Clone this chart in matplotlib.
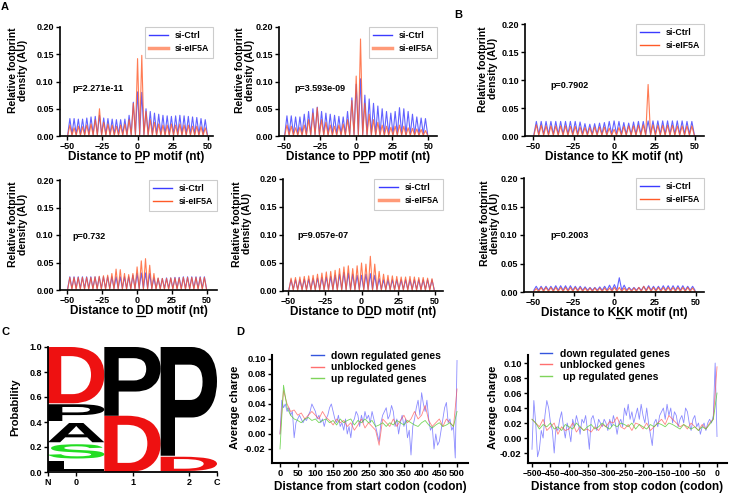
import matplotlib
matplotlib.use("Agg")
import matplotlib.pyplot as plt
import matplotlib.ticker as mticker
from matplotlib.lines import Line2D
from matplotlib.textpath import TextPath
from matplotlib.patches import PathPatch
from matplotlib.font_manager import FontProperties
from matplotlib.transforms import Affine2D

plt.rcParams["font.family"] = ["Liberation Sans", "DejaVu Sans"]
plt.rcParams["font.weight"] = "bold"
plt.rcParams["axes.labelweight"] = "bold"

# ---- footprint profiles (peak height at each codon, nt = -48 .. 48) ----
peak_nt = list(range(-48, 49, 3))

pp_ctrl = [0.032, 0.032, 0.031, 0.031, 0.033, 0.035, 0.036, 0.038, 0.033, 0.032, 0.031,
           0.030, 0.030, 0.031, 0.038, 0.062, 0.081, 0.080, 0.050, 0.045, 0.042, 0.040,
           0.038, 0.037, 0.036, 0.037, 0.038, 0.037, 0.036, 0.035, 0.034, 0.032, 0.030]
pp_eif = [0.020, 0.015, 0.018, 0.017, 0.020, 0.022, 0.030, 0.050, 0.025, 0.022, 0.020,
          0.018, 0.020, 0.022, 0.030, 0.060, 0.142, 0.148, 0.045, 0.030, 0.025, 0.022,
          0.020, 0.020, 0.022, 0.020, 0.022, 0.020, 0.020, 0.018, 0.018, 0.017, 0.015]

ppp_ctrl = [0.037, 0.037, 0.035, 0.035, 0.040, 0.045, 0.050, 0.053, 0.045, 0.042, 0.040,
            0.038, 0.036, 0.035, 0.045, 0.070, 0.095, 0.105, 0.075, 0.068, 0.060, 0.055,
            0.050, 0.045, 0.042, 0.045, 0.052, 0.050, 0.045, 0.040, 0.035, 0.033, 0.032]
ppp_eif = [0.020, 0.018, 0.015, 0.016, 0.020, 0.030, 0.042, 0.052, 0.030, 0.025, 0.020,
           0.018, 0.020, 0.022, 0.030, 0.065, 0.110, 0.178, 0.060, 0.040, 0.030, 0.025,
           0.020, 0.018, 0.016, 0.018, 0.020, 0.018, 0.015, 0.014, 0.013, 0.012, 0.010]

kk_ctrl = [0.026, 0.026, 0.026, 0.026, 0.026, 0.026, 0.026, 0.026, 0.026, 0.025, 0.022,
           0.021, 0.022, 0.023, 0.024, 0.026, 0.027, 0.026, 0.024, 0.023, 0.025, 0.026,
           0.026, 0.027, 0.027, 0.027, 0.027, 0.027, 0.027, 0.027, 0.027, 0.026, 0.026]
kk_eif = [0.020, 0.019, 0.018, 0.018, 0.018, 0.018, 0.018, 0.017, 0.017, 0.016, 0.015,
          0.015, 0.016, 0.016, 0.016, 0.014, 0.012, 0.015, 0.017, 0.018, 0.018, 0.019,
          0.020, 0.092, 0.020, 0.019, 0.019, 0.019, 0.019, 0.018, 0.018, 0.018, 0.018]

dd_ctrl = [0.024, 0.024, 0.024, 0.024, 0.024, 0.024, 0.024, 0.024, 0.024, 0.024, 0.024,
           0.024, 0.024, 0.024, 0.024, 0.027, 0.030, 0.031, 0.031, 0.030, 0.022, 0.021,
           0.021, 0.022, 0.022, 0.023, 0.023, 0.024, 0.024, 0.024, 0.024, 0.024, 0.024]
dd_eif = [0.023, 0.023, 0.023, 0.023, 0.023, 0.023, 0.024, 0.025, 0.026, 0.027, 0.030,
          0.038, 0.037, 0.030, 0.028, 0.030, 0.042, 0.053, 0.057, 0.045, 0.030, 0.022,
          0.021, 0.021, 0.022, 0.022, 0.022, 0.023, 0.023, 0.023, 0.023, 0.023, 0.023]

ddd_ctrl = [0.020, 0.020, 0.020, 0.021, 0.021, 0.022, 0.023, 0.024, 0.025, 0.026, 0.028,
            0.030, 0.033, 0.032, 0.030, 0.028, 0.028, 0.030, 0.031, 0.028, 0.022, 0.020,
            0.020, 0.020, 0.020, 0.020, 0.020, 0.020, 0.020, 0.020, 0.020, 0.020, 0.020]
ddd_eif = [0.023, 0.024, 0.025, 0.026, 0.027, 0.028, 0.030, 0.032, 0.034, 0.035, 0.037,
           0.040, 0.043, 0.045, 0.040, 0.045, 0.050, 0.048, 0.062, 0.048, 0.035, 0.030,
           0.028, 0.027, 0.026, 0.025, 0.025, 0.026, 0.025, 0.024, 0.024, 0.023, 0.022]

kkk_ctrl = [0.010, 0.010, 0.010, 0.010, 0.011, 0.011, 0.011, 0.011, 0.010, 0.010, 0.009,
            0.008, 0.008, 0.009, 0.010, 0.012, 0.013, 0.025, 0.012, 0.008, 0.008, 0.008,
            0.010, 0.011, 0.010, 0.010, 0.011, 0.011, 0.011, 0.011, 0.011, 0.010, 0.010]
kkk_eif = [0.006, 0.008, 0.008, 0.008, 0.008, 0.008, 0.008, 0.008, 0.008, 0.008, 0.007,
           0.007, 0.007, 0.007, 0.007, 0.007, 0.008, 0.008, 0.007, 0.007, 0.007, 0.008,
           0.010, 0.009, 0.008, 0.008, 0.008, 0.008, 0.008, 0.008, 0.008, 0.008, 0.007]

trough_ctrl = 0.003
trough_eif = 0.001

# ---- sequence logo (bottom to top per position) ----
logo_pos = [0, 1, 2]
logo_letters = [["L", "S", "A", "P", "D"], ["D", "P"], ["D", "P"]]
logo_heights = [[0.10, 0.13, 0.17, 0.15, 0.45], [0.45, 0.55], [0.13, 0.87]]

# ---- average charge profiles ----
start_blue_x = list(range(0, 501, 5))
start_blue = [0.000, 0.045, 0.035, 0.040, 0.030, 0.035, 0.025, 0.030, -0.005, 0.015,
              0.020, 0.025, 0.020, 0.015, 0.020, 0.018, 0.025, 0.030, 0.040, 0.035,
              0.030, 0.020, 0.025, 0.015, 0.020, 0.010, 0.020, 0.025, 0.035, 0.040,
              0.030, 0.020, 0.015, 0.025, 0.010, 0.015, 0.005, 0.020, 0.000, 0.010,
              -0.005, 0.015, 0.020, 0.030, 0.025, 0.010, 0.025, 0.015, 0.030, 0.020,
              0.025, 0.015, 0.030, 0.020, 0.010, 0.000, -0.010, 0.015, 0.025, 0.030,
              0.035, 0.020, 0.025, 0.038, 0.030, 0.010, 0.020, 0.000, 0.015, 0.025,
              0.010, 0.020, -0.005, 0.005, -0.028, 0.010, 0.020, 0.035, 0.045, 0.025,
              0.055, 0.040, 0.030, 0.045, 0.020, 0.005, 0.010, -0.020, 0.000, -0.015,
              -0.010, 0.005, 0.020, 0.035, 0.042, 0.015, 0.020, 0.005, 0.010, -0.032,
              0.098]
start_x = list(range(0, 501, 10))
start_red = [0.000, 0.058, 0.040, 0.030, 0.032, 0.025, 0.028, 0.020, 0.025, 0.030,
             0.025, 0.020, 0.030, 0.022, 0.018, 0.012, 0.020, 0.015, 0.018, 0.010,
             0.015, 0.005, 0.012, 0.020, 0.008, 0.015, 0.010, 0.005, -0.015, 0.020,
             0.015, 0.010, 0.020, 0.010, 0.018, 0.025, 0.015, 0.020, 0.030, 0.020,
             0.025, 0.038, 0.018, 0.010, 0.015, 0.020, 0.010, 0.020, 0.015, 0.010,
             0.060]
start_green = [-0.020, 0.065, 0.035, 0.025, 0.020, 0.018, 0.015, 0.020, 0.022, 0.018,
               0.020, 0.015, 0.018, 0.020, 0.015, 0.018, 0.012, 0.020, 0.015, 0.018,
               0.020, 0.012, 0.018, 0.015, 0.020, 0.015, 0.018, 0.010, 0.012, 0.015,
               0.010, 0.015, 0.012, 0.018, 0.015, 0.012, 0.018, 0.015, 0.012, 0.010,
               0.015, 0.018, 0.012, 0.008, 0.012, 0.015, 0.010, 0.012, 0.015, 0.010,
               0.030]

stop_blue_x = list(range(-500, 1, 5))
stop_blue = [-0.015, 0.050, 0.020, -0.025, -0.015, 0.010, 0.000, 0.030, 0.050, 0.040,
             0.020, 0.010, -0.020, 0.015, 0.010, 0.025, 0.035, 0.015, 0.000, 0.020,
             0.010, -0.005, 0.025, 0.015, 0.030, 0.020, 0.005, 0.025, 0.020, 0.030,
             0.010, -0.015, 0.025, 0.030, 0.020, 0.010, 0.025, 0.020, 0.015, 0.025,
             0.020, 0.010, 0.025, 0.015, 0.030, 0.020, 0.005, 0.020, 0.025, 0.015,
             0.040, 0.030, 0.045, 0.025, 0.035, 0.020, 0.030, 0.040, 0.025, 0.045,
             0.030, 0.020, 0.040, 0.020, 0.005, -0.010, 0.020, 0.025, 0.015, 0.030,
             0.035, 0.040, 0.025, 0.045, 0.030, 0.040, 0.020, 0.035, 0.030, 0.015,
             0.025, 0.030, 0.020, 0.040, 0.035, 0.020, 0.010, 0.025, 0.030, 0.015,
             0.020, 0.005, 0.015, 0.020, 0.010, 0.020, 0.025, 0.020, 0.030, 0.100,
             0.002]
stop_x = list(range(-500, 1, 10))
stop_red = [0.025, 0.020, 0.015, 0.025, 0.010, 0.015, 0.020, 0.005, 0.015, 0.010,
            0.012, 0.020, 0.008, 0.015, 0.010, 0.012, 0.008, 0.015, 0.010, 0.018,
            0.015, 0.022, 0.020, 0.028, 0.015, 0.012, 0.018, 0.010, 0.020, 0.018,
            0.012, 0.020, 0.010, 0.015, 0.020, 0.025, 0.018, 0.030, 0.025, 0.020,
            0.015, 0.018, 0.012, 0.020, 0.015, 0.010, 0.018, 0.012, 0.020, 0.025,
            0.095]
stop_green = [0.025, 0.020, 0.012, 0.018, 0.015, 0.020, 0.012, 0.015, 0.010, 0.018,
              0.015, 0.012, 0.020, 0.015, 0.010, 0.015, 0.018, 0.012, 0.015, 0.020,
              0.015, 0.012, 0.018, 0.015, 0.020, 0.018, 0.015, 0.020, 0.012, 0.018,
              0.015, 0.012, 0.018, 0.015, 0.020, 0.018, 0.015, 0.020, 0.018, 0.015,
              0.012, 0.018, 0.015, 0.012, 0.015, 0.010, 0.015, 0.012, 0.018, 0.025,
              0.060]

CTRL = "#3b3bff"
EIF = "#ff5a28"
RED = "#ee1111"
GREEN = "#22dd22"

W, H = 729, 495
fig = plt.figure(figsize=(W / 100, H / 100), dpi=100)


def px_axes(l, t, r, b):
    return fig.add_axes([l / W, 1 - b / H, (r - l) / W, (b - t) / H])


def style(ax, lw=1.2, size=6.5):
    ax.spines[["top", "right"]].set_visible(False)
    ax.spines[["left", "bottom"]].set_linewidth(lw)
    ax.tick_params(direction="out", length=3, width=1, labelsize=size, pad=1.5)


def spikes(peaks, trough):
    xs, ys = [peak_nt[0] - 1.5], [trough]
    for p, v in zip(peak_nt, peaks):
        xs += [p, p + 1.5]
        ys += [v, trough]
    return xs, ys


panels = [
    # box, xlim, ctrl, eif, xlabel, underline idx, p text, p xy, ylabel offset (px), thick legend
    ((60, 27, 213, 136), (-55, 53.5), pp_ctrl, pp_eif, "Distance to PP motif (nt)", 12,
     "p=2.271e-11", (-46, 0.088), -32, True),
    ((279, 27, 437, 136), (-53.5, 56), ppp_ctrl, ppp_eif, "Distance to PPP motif (nt)", 13,
     "p=3.593e-09", (-43, 0.088), -24, True),
    ((525, 24, 704, 136), (-55, 55.5), kk_ctrl, kk_eif, "Distance to KK motif (nt)", 12,
     "p=0.7902", (-39.5, 0.09), -27, False),
    ((60, 180, 217, 290), (-55, 57), dd_ctrl, dd_eif, "Distance to DD motif (nt)", 12,
     "p=0.732", (-46, 0.098), -32, False),
    ((283, 179, 443, 291), (-53.5, 55.5), ddd_ctrl, ddd_eif, "Distance to DDD motif (nt)", 13,
     "p=9.057e-07", (-44, 0.1), -31, True),
    ((524, 178, 704, 292), (-55.5, 55), kkk_ctrl, kkk_eif, "Distance to KKK motif (nt)", 13,
     "p=0.2003", (-39.5, 0.10), -24, False),
]

underlines = []
for box, xlim, ctrl, eif, xlab, uidx, ptxt, pxy, yoff, thick in panels:
    ax = px_axes(*box)
    style(ax)
    x, y = spikes(ctrl, trough_ctrl)
    ax.plot(x, y, color=CTRL, lw=0.8, alpha=0.8)
    x, y = spikes(eif, trough_eif)
    ax.plot(x, y, color=EIF, lw=0.8, alpha=0.8)
    ax.set_xlim(*xlim)
    ax.set_ylim(0, 0.2)
    ax.set_xticks([-50, -25, 0, 25, 50])
    ax.set_yticks([0, 0.05, 0.10, 0.15, 0.20])
    ax.yaxis.set_major_formatter(mticker.FormatStrFormatter("%.2f"))
    ax.text(pxy[0], pxy[1], ptxt, fontsize=6.5, fontweight="bold", va="center")
    wpx = box[2] - box[0]
    hpx = box[3] - box[1]
    ax.set_ylabel("Relative footprint\ndensity (AU)", fontsize=7.5, linespacing=1.0)
    ax.yaxis.set_label_coords(yoff / wpx, 0.6)
    ax.set_xlabel(xlab, fontsize=8.5)
    ax.xaxis.set_label_coords(0.5, -21 / hpx)
    ax.xaxis.label.set_va("center")
    if thick:
        h2 = Line2D([], [], color="#ff9a78", lw=2.5)
    else:
        h2 = Line2D([], [], color=EIF, lw=1.0)
    h1 = Line2D([], [], color=CTRL, lw=1.0)
    leg = ax.legend([h1, h2], ["si-Ctrl", "si-eIF5A"], loc="upper right",
                    bbox_to_anchor=(1.0, 1.0), borderaxespad=0, fontsize=6.3,
                    handlelength=2.2, handletextpad=0.7, borderpad=0.5,
                    labelspacing=0.45, fancybox=False, framealpha=1)
    leg.get_frame().set_edgecolor("#cccccc")
    leg.get_frame().set_linewidth(0.8)
    underlines.append((ax, xlab, uidx))

# ---- panel C: sequence logo ----
axc = px_axes(48, 347, 217, 472)
style(axc, lw=1.3, size=6.5)
fp = FontProperties(family="Liberation Sans", weight="bold")
for pos, letters, heights in zip(logo_pos, logo_letters, logo_heights):
    base = 0.0
    for ch, hgt in zip(letters, heights):
        col = RED if ch == "D" else (GREEN if ch == "S" else "black")
        tp = TextPath((0, 0), ch, size=1, prop=fp)
        bb = tp.get_extents()
        pad = 0.008 if hgt < 0.3 else 0.0
        tr = (Affine2D().translate(-bb.x0, -bb.y0)
              .scale(1.0 / bb.width, (hgt - 2 * pad) / bb.height)
              .translate(pos - 0.5, base + pad) + axc.transData)
        axc.add_patch(PathPatch(tp, transform=tr, fc=col, ec="none"))
        base += hgt
axc.set_xlim(-0.5, 2.5)
axc.set_ylim(0, 1.0)
axc.set_xticks([-0.5, 0, 1, 2, 2.5])
axc.set_xticklabels(["N", "0", "1", "2", "C"])
axc.set_yticks([0, 0.2, 0.4, 0.6, 0.8, 1.0])
axc.yaxis.set_major_formatter(mticker.FormatStrFormatter("%.1f"))
axc.set_ylabel("Probability", fontsize=8)
axc.yaxis.set_label_coords(-28 / 169, 0.52)

# ---- panel D: average charge ----
leg_blue = "#3355dd"
leg_red = "#ff6f6f"
leg_green = "#7fd45a"

axd1 = px_axes(272, 355, 468, 463)
style(axd1, lw=1.5, size=6.8)
axd1.plot(start_blue_x, start_blue, color="#5a5aff", lw=0.6, alpha=0.7)
axd1.plot(start_x, start_red, color="#ff5050", lw=0.6, alpha=0.7)
axd1.plot(start_x, start_green, color="#55cc33", lw=0.6, alpha=0.8)
axd1.set_xlim(-22.6, 531)
axd1.set_ylim(-0.0387, 0.1053)
axd1.set_xticks(range(0, 501, 50))
axd1.set_yticks([-0.02, 0, 0.02, 0.04, 0.06, 0.08, 0.10])
axd1.yaxis.set_major_formatter(mticker.FormatStrFormatter("%.2f"))
axd1.set_xlabel("Distance from start codon (codon)", fontsize=8.5)
axd1.xaxis.set_label_coords(0.5, -24 / 108)
axd1.xaxis.label.set_va("center")
axd1.set_ylabel("Average charge", fontsize=8)
axd1.yaxis.set_label_coords(-32 / 196, 0.52)
axd1.legend([Line2D([], [], color=leg_blue, lw=1), Line2D([], [], color=leg_red, lw=1),
             Line2D([], [], color=leg_green, lw=1)],
            ["down regulated genes", "unblocked genes", "up regulated genes"],
            loc="upper left", bbox_to_anchor=(0.2, 1.04), frameon=False, fontsize=7.5,
            handlelength=1.2, handletextpad=0.7, labelspacing=0.15, borderpad=0,
            borderaxespad=0)

axd2 = px_axes(528, 355, 727, 463)
style(axd2, lw=1.5, size=6.2)
axd2.plot(stop_blue_x, stop_blue, color="#5a5aff", lw=0.6, alpha=0.7)
axd2.plot(stop_x, stop_red, color="#ff5050", lw=0.6, alpha=0.7)
axd2.plot(stop_x, stop_green, color="#55cc33", lw=0.6, alpha=0.8)
axd2.set_xlim(-510.8, 27)
axd2.set_ylim(-0.0333, 0.1107)
axd2.set_xticks(range(-500, 1, 50))
axd2.set_yticks([-0.02, 0, 0.02, 0.04, 0.06, 0.08, 0.10])
axd2.yaxis.set_major_formatter(mticker.FormatStrFormatter("%.2f"))
axd2.tick_params(axis="y", labelsize=6.8)
axd2.set_xlabel("Distance from stop codon (codon)", fontsize=8.5)
axd2.xaxis.set_label_coords(0.5, -24 / 108)
axd2.xaxis.label.set_va("center")
axd2.set_ylabel("Average charge", fontsize=8)
axd2.yaxis.set_label_coords(-30 / 199, 0.52)
axd2.legend([Line2D([], [], color=leg_blue, lw=1), Line2D([], [], color=leg_red, lw=1),
             Line2D([], [], color=leg_green, lw=1)],
            ["down regulated genes", "unblocked genes", " up regulated genes"],
            loc="upper left", bbox_to_anchor=(0.06, 1.06), frameon=False, fontsize=7.5,
            handlelength=1.2, handletextpad=0.7, labelspacing=0.15, borderpad=0,
            borderaxespad=0)

# ---- panel letters ----
for lab, px, py in [("A", 5, 7), ("B", 458, 15), ("C", 5, 332), ("D", 240, 332)]:
    fig.text(px / W, 1 - py / H, lab, fontsize=8, fontweight="bold", ha="center", va="center")

# ---- underline the motif residue in the x labels ----
fig.canvas.draw()
renderer = fig.canvas.get_renderer()
for ax, text, idx in underlines:
    lab = ax.xaxis.label
    bb = lab.get_window_extent(renderer)
    prop = lab.get_fontproperties()
    w_upto, _, _ = renderer.get_text_width_height_descent(text[:idx + 1], prop, ismath=False)
    w_ch, _, _ = renderer.get_text_width_height_descent(text[idx], prop, ismath=False)
    _, _, desc = renderer.get_text_width_height_descent(text, prop, ismath=False)
    x2 = bb.x0 + w_upto
    x1 = x2 - w_ch
    yb = bb.y0 + desc - 2
    fig.add_artist(Line2D([x1 / W, x2 / W], [yb / H, yb / H], transform=fig.transFigure,
                          color="black", lw=0.9))

fig.savefig("out.png", dpi=100)
